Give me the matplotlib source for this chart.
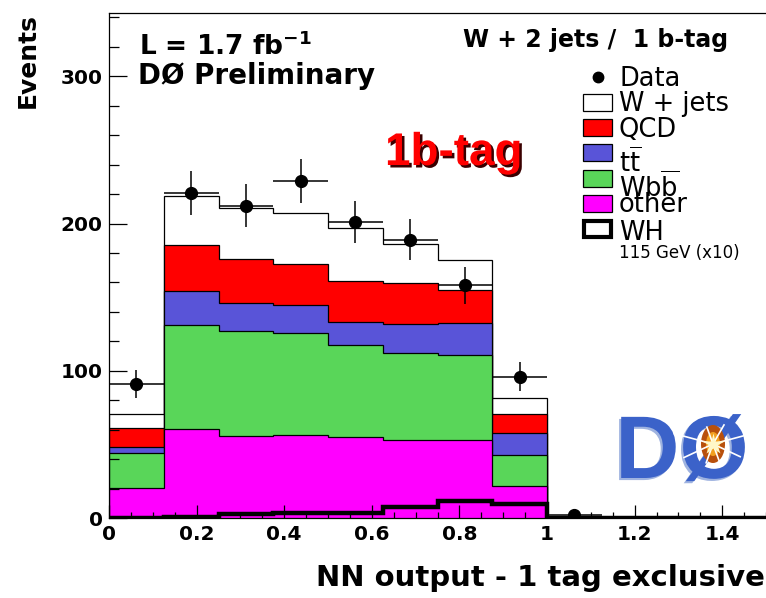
import numpy as np
import matplotlib
matplotlib.use('Agg')
import matplotlib.pyplot as plt
import matplotlib.patheffects as pe
from matplotlib.patches import Rectangle, Ellipse
from matplotlib.lines import Line2D
from matplotlib.ticker import MultipleLocator, FormatStrFormatter

# NN output bins (width 0.125 from 0 to 1.5)
bin_edges = np.arange(13) * 0.125

# background yields per bin (stacked from bottom: other, Wbb, ttbar, QCD, W+jets)
other = [20.7, 60.4, 55.7, 56.3, 55.0, 53.0, 53.0, 22.0, 0, 0, 0, 0]
wbb   = [23.6, 70.6, 71.3, 69.5, 62.5, 59.0, 57.7, 20.8, 0, 0, 0, 0]
ttbar = [4.1, 23.1, 19.2, 18.8, 15.8, 19.7, 21.5, 15.1, 0, 0, 0, 0]
qcd   = [12.5, 31.2, 29.4, 27.6, 27.7, 28.1, 22.8, 12.7, 0, 0, 0, 0]
wjets = [9.7, 33.7, 35.1, 34.8, 35.7, 26.2, 20.2, 10.7, 0, 0, 0, 0]

# WH signal, 115 GeV, scaled x10
wh = [0.3, 1.0, 2.5, 3.6, 3.2, 7.3, 11.5, 9.5, 0, 0, 0, 0]

# observed data (first 9 bins)
data = [91, 221, 212, 229, 201, 189, 158, 96, 2]

bkg_names = ['other', r'W$\mathrm{b\overline{b}}$', r'$\mathrm{t\overline{t}}$', 'QCD', 'W + jets']
bkg_colors = ['#ff00ff', '#59d659', '#5954d8', '#ff0000', 'white']

W, H = 766, 598
def fx(px):
    return px / W
def fy(py):
    return 1 - py / H

fig = plt.figure(figsize=(W / 100, H / 100), dpi=100)
ax = fig.add_axes([109 / W, 80 / H, 657 / W, 505 / H])

# stack, drawn from the top down so each layer covers the one above it
stack = np.cumsum([other, wbb, ttbar, qcd, wjets], axis=0)
for i in range(len(stack) - 1, -1, -1):
    ax.stairs(stack[i], bin_edges, fill=True, baseline=0,
              facecolor=bkg_colors[i], edgecolor='black', linewidth=0.9, zorder=1)

ax.stairs(wh, bin_edges, color='black', linewidth=3.2, zorder=3)

centers = (bin_edges[:-1] + bin_edges[1:]) / 2
d = np.array(data, dtype=float)
ax.errorbar(centers[:len(d)], d, yerr=np.sqrt(d), xerr=0.0625, fmt='o',
            color='black', ms=8.5, elinewidth=1.1, capsize=0, zorder=4)

ax.set_xlim(0, 1.5)
ax.set_ylim(0, 343)
ax.set_yticks([0, 100, 200, 300])
ax.yaxis.set_minor_locator(MultipleLocator(20))
ax.xaxis.set_major_locator(MultipleLocator(0.2))
ax.xaxis.set_minor_locator(MultipleLocator(0.05))
ax.xaxis.set_major_formatter(FormatStrFormatter('%g'))
ax.tick_params(which='both', direction='in', width=0.9, labelsize=14.5)
ax.tick_params(axis='y', which='major', length=13, pad=4.5)
ax.tick_params(axis='y', which='minor', length=7)
ax.tick_params(axis='x', which='major', length=9.5, pad=5)
ax.tick_params(axis='x', which='minor', length=4.5)
for lab in ax.get_xticklabels() + ax.get_yticklabels():
    lab.set_fontweight('bold')
ax.spines['right'].set_visible(False)
for s in ['left', 'bottom', 'top']:
    ax.spines[s].set_linewidth(0.9)

fig.text(fx(28), fy(13), 'Events', rotation=90, ha='center', va='top',
         fontsize=18, fontweight='bold')
fig.text(fx(765), fy(578), 'NN output - 1 tag exclusive', ha='right', va='center',
         fontsize=21, fontweight='bold')

fig.text(fx(139), fy(55), r'L = 1.7 fb$^{\mathbf{-1}}$', va='baseline', fontsize=19, fontweight='bold')
fig.text(fx(138), fy(84), 'DØ Preliminary', va='baseline', fontsize=20, fontweight='bold')
fig.text(fx(463), fy(47), 'W + 2 jets /  1 b-tag', va='baseline', fontsize=17, fontweight='bold')

fig.text(fx(385), fy(165), '1b-tag', va='baseline', fontsize=33, fontweight='bold',
         family=['Liberation Sans', 'DejaVu Sans'], color='#ff0000',
         path_effects=[pe.withSimplePatchShadow(offset=(1.8, -1.8), shadow_rgbFace='#3a0000', alpha=1.0)])

# legend
row = 25.3
fig.add_artist(Line2D([fx(598)], [fy(77)], marker='o', ms=7.5, color='black',
                      transform=fig.transFigure))
fig.text(fx(619), fy(86), 'Data', va='baseline', fontsize=18.5)
for k in range(5):
    i = 4 - k
    cy = 77 + row * (k + 1)
    fig.add_artist(Rectangle((fx(583), fy(cy + 8.5)), 29 / W, 17 / H,
                             transform=fig.transFigure, facecolor=bkg_colors[i],
                             edgecolor='black', linewidth=0.9))
    extra = 10 if 'overline' in bkg_names[i] else 0
    fig.text(fx(619), fy(cy + 9 + extra), bkg_names[i], va='baseline', fontsize=18.5)
cy = 77 + row * 6
fig.add_artist(Rectangle((fx(584), fy(cy + 8)), 27 / W, 16 / H, transform=fig.transFigure,
                         facecolor='white', edgecolor='black', linewidth=3))
fig.text(fx(619), fy(cy + 11), 'WH', va='baseline', fontsize=18.5)
fig.text(fx(619), fy(258), '115 GeV (x10)', va='baseline', fontsize=12)

# DØ logo
fig.text(fx(682), fy(478), 'DØ', ha='center', va='baseline', fontsize=64, fontweight='bold',
         family=['Liberation Sans', 'DejaVu Sans'], color='#3b62c9',
         path_effects=[pe.withSimplePatchShadow(offset=(-1.5, -1.5), shadow_rgbFace='#9fb3e0', alpha=1.0)])
lx, ly = 713, 444
fig.add_artist(Ellipse((fx(lx), fy(ly)), 24 / W, 38 / H, transform=fig.transFigure,
                       facecolor='#b8500c', edgecolor='none', zorder=5))
fig.add_artist(Ellipse((fx(lx), fy(ly)), 14 / W, 24 / H, transform=fig.transFigure,
                       facecolor='#f2a020', edgecolor='none', zorder=5))
for ang, ln in [(15, 38), (165, 40), (-25, 30), (205, 32), (60, 22), (250, 20), (110, 18), (-70, 18)]:
    a = np.radians(ang)
    fig.add_artist(Line2D([fx(lx), fx(lx + ln * np.cos(a))], [fy(ly), fy(ly - ln * np.sin(a))],
                          color='white', linewidth=1.2, transform=fig.transFigure, zorder=6))
fig.add_artist(Line2D([fx(lx)], [fy(ly)], marker='*', ms=16, color='#fff8c8',
                      markeredgecolor='none', transform=fig.transFigure, zorder=7))

fig.savefig('out.png', dpi=100)
